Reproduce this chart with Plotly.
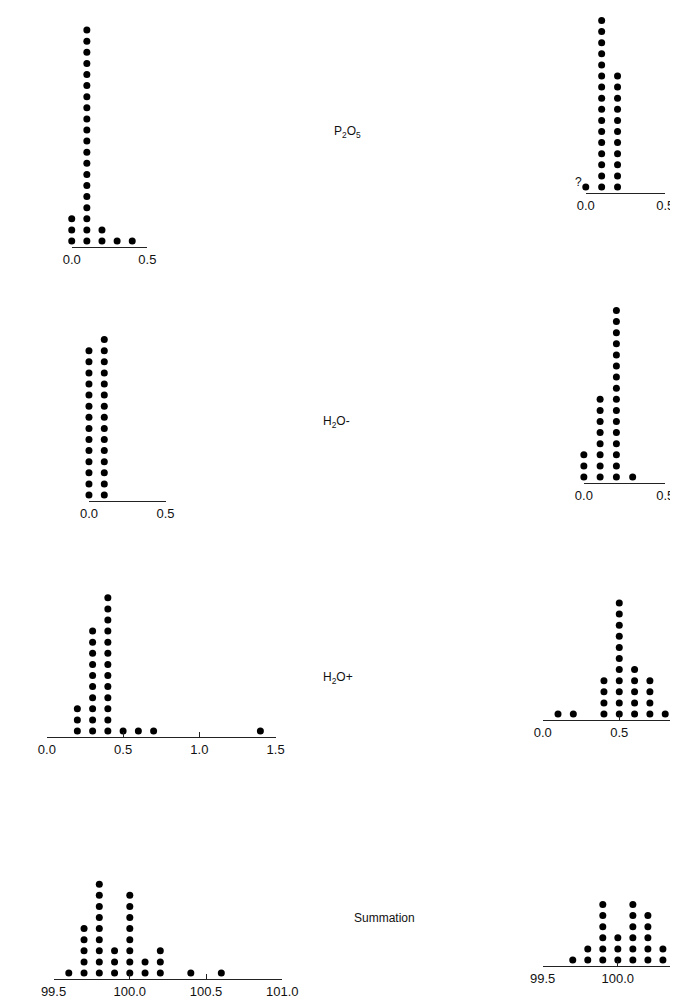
import numpy as np
import plotly.graph_objects as go

# dot plots: column position and number of stacked dots
p2o5_left_x = [0.0, 0.1, 0.2, 0.3, 0.4]
p2o5_left_n = [3, 20, 2, 1, 1]
p2o5_right_x = [0.0, 0.1, 0.2]
p2o5_right_n = [1, 16, 11]

h2o_minus_left_x = [0.0, 0.1]
h2o_minus_left_n = [14, 15]
h2o_minus_right_x = [0.0, 0.1, 0.2, 0.3]
h2o_minus_right_n = [3, 8, 16, 1]

h2o_plus_left_x = [0.2, 0.3, 0.4, 0.5, 0.6, 0.7, 1.4]
h2o_plus_left_n = [3, 10, 13, 1, 1, 1, 1]
h2o_plus_right_x = [0.1, 0.2, 0.4, 0.5, 0.6, 0.7, 0.8]
h2o_plus_right_n = [1, 1, 4, 11, 5, 4, 1]

sum_left_x = [99.6, 99.7, 99.8, 99.9, 100.0, 100.1, 100.2, 100.4, 100.6]
sum_left_n = [1, 5, 9, 3, 8, 2, 3, 1, 1]
sum_right_x = [99.7, 99.8, 99.9, 100.0, 100.1, 100.2, 100.3]
sum_right_n = [1, 2, 6, 3, 6, 5, 2]

oxide_labels = ["P<sub>2</sub>O<sub>5</sub>", "H<sub>2</sub>O-", "H<sub>2</sub>O+", "Summation"]

W, H = 678, 1004
DOT = 11.1  # px between stacked dots
FONT = "Liberation Sans"

# (x, n, left px, right px, axis line y px, x range)
panels = [
    (p2o5_left_x, p2o5_left_n, 53, 132, 239, [0, 0.5]),
    (p2o5_right_x, p2o5_right_n, 590, 673, 185, [0, 0.5]),
    (h2o_minus_left_x, h2o_minus_left_n, 71, 151, 493, [0, 0.5]),
    (h2o_minus_right_x, h2o_minus_right_n, 588, 673, 475, [0, 0.5]),
    (h2o_plus_left_x, h2o_plus_left_n, 27, 266, 729, [0, 1.5]),
    (h2o_plus_right_x, h2o_plus_right_n, 545, 678, 712, [0, 133 / 160]),
    (sum_left_x, sum_left_n, 34, 273, 971, [99.5, 101.0]),
    (sum_right_x, sum_right_n, 545, 678, 958, [99.5, 99.5 + 133 / 157]),
]

fig = go.Figure()
layout = {}
for i, (xs, ns, px0, px1, ay, xr) in enumerate(panels):
    k = "" if i == 0 else str(i + 1)
    px = np.repeat(xs, ns)
    py = np.concatenate([np.arange(1, c + 1) for c in ns])
    fig.add_trace(go.Scatter(
        x=px, y=py, mode="markers", xaxis="x" + k, yaxis="y" + k,
        marker=dict(size=7, color="black"), cliponaxis=False,
        showlegend=False, hoverinfo="x",
    ))
    # keep each plot box just tall enough for its own stack, so boxes never overlap
    top = max(ay - (max(ns) - 1) * DOT - 14, 0)
    y0 = 1 - 6 / DOT
    layout["xaxis" + k] = dict(
        domain=[px0 / W, px1 / W], range=xr, anchor="y" + k,
        showline=True, linecolor="#222", linewidth=1,
        ticks="inside", ticklen=5, tickcolor="#222", dtick=0.5,
        tickformat=".1f", showgrid=False, zeroline=False,
        tickfont=dict(family=FONT, size=13, color="#111"),
    )
    layout["yaxis" + k] = dict(
        domain=[1 - ay / H, 1 - top / H], range=[y0, y0 + (ay - top) / DOT],
        anchor="x" + k, visible=False,
    )

fig.update_layout(**layout)

label_pos = [(341, 114), (330, 414), (331, 680), (380, 919)]
for text, (lx, ly) in zip(oxide_labels, label_pos):
    fig.add_annotation(x=lx / W, y=1 - ly / H, xref="paper", yref="paper",
                       text=text, showarrow=False,
                       font=dict(family=FONT, size=12, color="#111"))

fig.add_annotation(x=0, y=1, xref="x2", yref="y2", text="?", showarrow=False,
                   xanchor="right", xshift=-2, yshift=5,
                   font=dict(family=FONT, size=12, color="#111"))

fig.update_layout(
    width=W, height=H, margin=dict(l=0, r=0, t=0, b=0),
    paper_bgcolor="white", plot_bgcolor="rgba(0,0,0,0)",
)
fig.write_html("out.html")
